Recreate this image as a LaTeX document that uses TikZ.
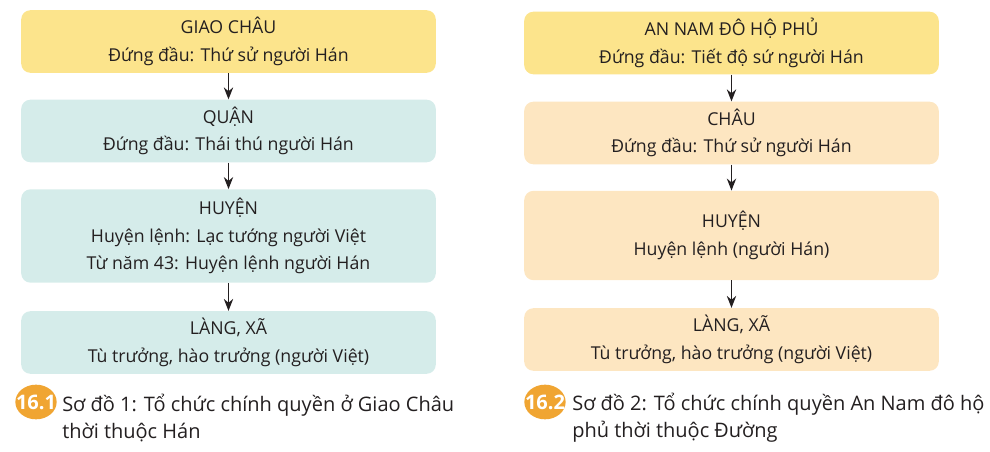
\documentclass[tikz,border=0pt]{standalone}
\usepackage{fontspec}
\setmainfont{Open Sans}
\usetikzlibrary{positioning,shapes,shapes.geometric,arrows.meta}
\usepackage{xcolor}
\definecolor{vang}{HTML}{FCE48C}
\definecolor{xanh}{HTML}{D5ECEA}
\definecolor{cam}{HTML}{FDE6C1}
\definecolor{huy}{HTML}{F0A532}
\definecolor{chu}{HTML}{231F20}
\newcommand{\hinh}[1]{\makebox[0pt]{#1}}

\begin{document}
\begin{tikzpicture}[x=0.75pt,y=-0.75pt,
    b/.style={rounded corners=7pt,minimum width=311pt,minimum height=47pt,inner sep=0pt,
      align=center,text=chu,font=\fontsize{13.3}{20.5}\selectfont},%
    f/.style={-{Stealth[length=9pt,width=7pt]},line width=1.1pt,chu},%
    h/.style={ellipse,fill=huy,text=white,inner sep=0pt,minimum width=31pt,minimum height=26pt,
      font=\fontsize{15}{15}\selectfont\bfseries},%
    c/.style={anchor=west,align=left,text=chu,inner sep=0pt,font=\fontsize{15}{20}\selectfont}]
    \useasboundingbox (0,0) rectangle (990,452);
    % so do 1
    \node[b,fill=vang] (GC) at (228.5,41.5) {GIAO CHÂU\\Đứng đầu: Thứ sử người Hán};
    \node[b,fill=xanh] (Quan) at (228.5,131) {QUẬN\\Đứng đầu: Thái thú người Hán};
    \node[b,fill=xanh,minimum height=70pt] (HuyenA) at (228.5,236) {HUYỆN\\Huyện lệnh: Lạc tướng người Việt\\Từ năm 43: Huyện lệnh người Hán};
    \node[b,fill=xanh] (LangA) at (228.5,342.5) {LÀNG, XÃ\\Tù trưởng, hào trưởng (người Việt)};
    \draw[f] (GC) -- (Quan);
    \draw[f] (Quan) -- (HuyenA);
    \draw[f] (HuyenA) -- (LangA);
    \node[h] (B1) at (36,402) {\hinh{16.1}};
    \node[c] (T1) at (62,418) {Sơ đồ 1: Tổ chức chính quyền ở Giao Châu\\thời thuộc Hán};
    % so do 2
    \node[b,fill=vang] (ANDHP) at (731.5,43) {AN NAM ĐÔ HỘ PHỦ\\Đứng đầu: Tiết độ sứ người Hán};
    \node[b,fill=cam] (Chau) at (731.5,133) {CHÂU\\Đứng đầu: Thứ sử người Hán};
    \node[b,fill=cam,minimum height=67pt] (HuyenB) at (731.5,235.5) {HUYỆN\\Huyện lệnh (người Hán)};
    \node[b,fill=cam] (LangB) at (731.5,339.5) {LÀNG, XÃ\\Tù trưởng, hào trưởng (người Việt)};
    \draw[f] (ANDHP) -- (Chau);
    \draw[f] (Chau) -- (HuyenB);
    \draw[f] (HuyenB) -- (LangB);
    \node[h] (B2) at (545,402) {\hinh{16.2}};
    \node[c] (T2) at (572,418) {Sơ đồ 2: Tổ chức chính quyền An Nam đô hộ\\phủ thời thuộc Đường};
\end{tikzpicture}
\end{document}
